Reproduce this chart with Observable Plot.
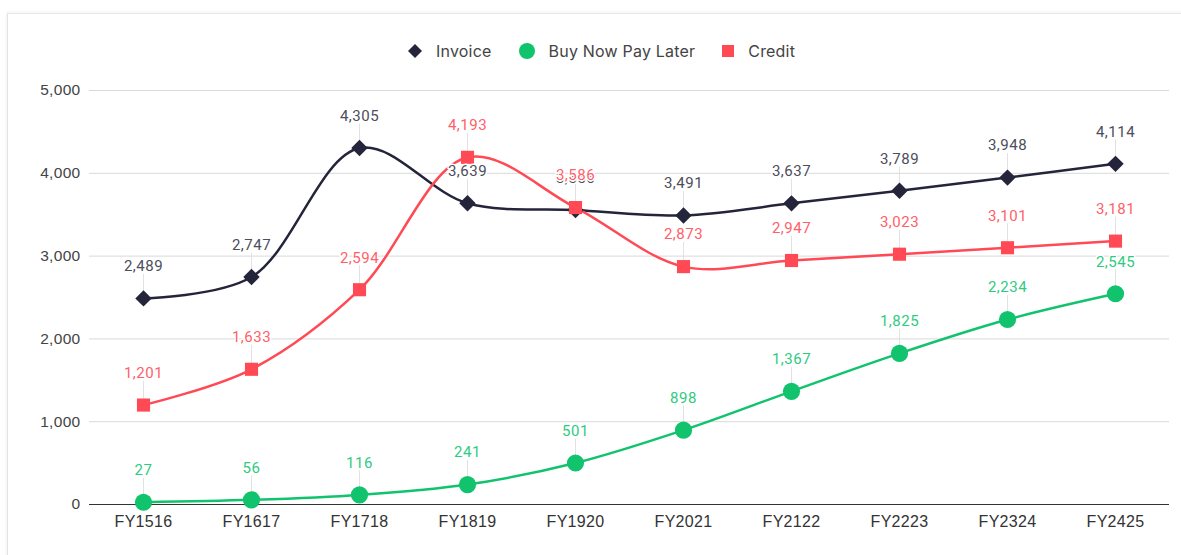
<!DOCTYPE html>
<html>
<head>
<meta charset="utf-8">
<script src="https://cdn.jsdelivr.net/npm/d3@7"></script>
<script src="https://cdn.jsdelivr.net/npm/@observablehq/plot@0.6"></script>
<style>
  html, body { margin: 0; padding: 0; background: #fff; width: 1181px; height: 555px; overflow: hidden; }
  #card { position: absolute; left: 7px; top: 13px; width: 1250px; height: 600px;
          border-top: 1px solid #e8e8e8; border-left: 1px solid #e4e4e4;
          box-shadow: -1px -1px 3px rgba(0,0,0,0.05); }
  #legend { position: absolute; left: 407px; top: 39px; height: 24px; display: flex; align-items: center;
            font-family: Inter, Roboto, sans-serif; font-size: 16px; color: #444; letter-spacing: 0.2px; }
  .item { display: flex; align-items: center; margin-right: 26px; }
  .item svg { margin-right: 13px; }
  #chart { position: absolute; left: 0; top: 75px; }
  .lbl text { letter-spacing: 0.5px; }
  .ax text { letter-spacing: 0.3px; }
</style>
</head>
<body>
<div id="card"></div>
<div id="legend"></div>
<div id="chart"></div>
<script>
const categories = ["FY1516","FY1617","FY1718","FY1819","FY1920","FY2021","FY2122","FY2223","FY2324","FY2425"];
const invoice = [2489, 2747, 4305, 3639, 3556, 3491, 3637, 3789, 3948, 4114];
const bnpl    = [27, 56, 116, 241, 501, 898, 1367, 1825, 2234, 2545];
const credit  = [1201, 1633, 2594, 4193, 3586, 2873, 2947, 3023, 3101, 3181];
const seriesNames = ["Invoice", "Buy Now Pay Later", "Credit"];
const lineColors = ["#24243a", "#12c36e", "#ff4a55"];
const labelColors = ["#4d4d5c", "#2fcb7f", "#ff5f69"];
const symbols = ["diamond2", "circle", "square"];
const radii = [7.4, 8.6, 7.4];
const yTicks = [0, 1000, 2000, 3000, 4000, 5000];

const allValues = [invoice, bnpl, credit];
const rows = allValues.flatMap((vals, s) => vals.map((v, i) => ({series: seriesNames[s], s, cat: categories[i], value: v})));
const bySeries = s => rows.filter(d => d.s === s);

// legend
const legend = document.getElementById("legend");
seriesNames.forEach((name, s) => {
  const item = document.createElement("div");
  item.className = "item";
  let shape;
  if (s === 0) shape = `<svg width="16" height="16"><path d="M8 1 L15 8 L8 15 L1 8 Z" fill="${lineColors[0]}"/></svg>`;
  else if (s === 1) shape = `<svg width="18" height="18"><circle cx="9" cy="9" r="8" fill="${lineColors[1]}"/></svg>`;
  else shape = `<svg width="14" height="14"><rect x="1" y="1" width="12" height="12" fill="${lineColors[2]}"/></svg>`;
  item.innerHTML = shape + `<span>${name}</span>`;
  legend.appendChild(item);
});

const fmt = d3.format(",");
const marks = [
  Plot.gridY(yTicks, {stroke: "#d9d9d9", strokeOpacity: 1}),
  Plot.ruleY([0], {stroke: "#333", strokeWidth: 1}),
];
// leader rules
[0,1,2].forEach(s => {
  marks.push(Plot.ruleX(bySeries(s), {x: "cat", y1: "value", y2: "value", insetTop: -24, stroke: "#e2e2e2", strokeWidth: 1}));
});
// lines
[0,1,2].forEach(s => {
  marks.push(Plot.line(bySeries(s), {x: "cat", y: "value", curve: "catmull-rom", stroke: lineColors[s], strokeWidth: 2.5}));
});
// dots
[0,1,2].forEach(s => {
  marks.push(Plot.dot(bySeries(s), {x: "cat", y: "value", symbol: () => symbols[s], r: radii[s], fill: lineColors[s], stroke: "none"}));
});
// labels
[1,0,2].forEach(s => {
  marks.push(Plot.text(bySeries(s), {x: "cat", y: "value", text: d => fmt(d.value), dy: -32, fill: labelColors[s],
    stroke: "white", strokeWidth: 3, fontSize: 15, fontFamily: "Roboto, sans-serif", className: "lbl"}));
});
marks.push(Plot.axisY(yTicks, {tickSize: 0, tickPadding: 9, tickFormat: fmt, fontSize: 15.5, fontFamily: "'Liberation Sans', Arial, sans-serif", fill: "#444", label: null, className: "ax"}));
marks.push(Plot.axisX({tickSize: 0, tickPadding: 11, fontSize: 16, fontFamily: "'Liberation Sans', Arial, sans-serif", fill: "#333", label: null, className: "ax"}));

const chart = Plot.plot({
  width: 1181,
  height: 470,
  marginLeft: 89,
  marginRight: 12,
  marginTop: 15,
  marginBottom: 41,
  style: {background: "transparent", overflow: "visible"},
  x: {type: "point", domain: categories, padding: 0.5},
  y: {domain: [0, 5000]},
  marks
});
document.getElementById("chart").appendChild(chart);
</script>
</body>
</html>
